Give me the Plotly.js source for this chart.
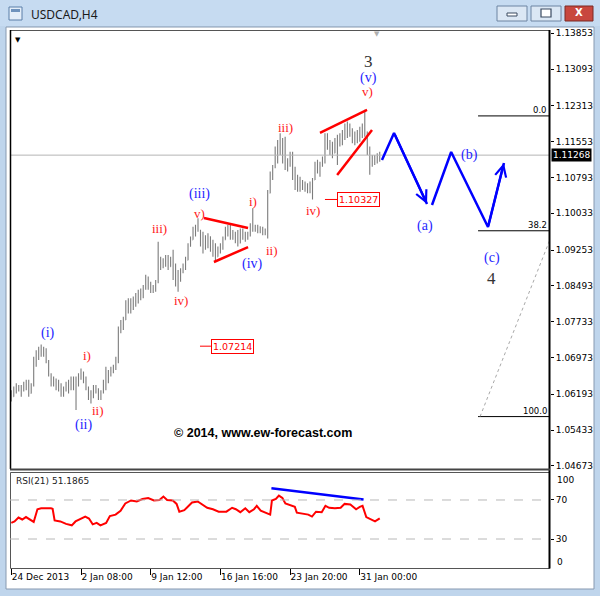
<!DOCTYPE html>
<html><head><meta charset="utf-8">
<script src="https://cdn.plot.ly/plotly-3.0.1.min.js"></script>
<style>html,body{margin:0;padding:0;background:#bfd5ec;}#chart{width:600px;height:596px;}</style>
</head><body><div id="chart"></div>
<script>
// ---------- DATA ----------
const symbolTitle = 'USDCAD,H4';
const dateTicks = [0, 28, 56, 84, 112, 140];
const dateLabels = ['24 Dec 2013','2 Jan 08:00','9 Jan 12:00','16 Jan 16:00','23 Jan 20:00','31 Jan 00:00'];
const priceTicks = [1.04673,1.05433,1.06193,1.06973,1.07733,1.08493,1.09253,1.10033,1.10793,1.11553,1.12313,1.13093,1.13853];
const bidPrice = 1.11268;

const openP = [1.0621,1.0614,1.0632,1.0636,1.0632,1.0628,1.0643,1.0636,1.0621,1.0639,
1.0692,1.0706,1.0717,1.0706,1.0713,1.0689,1.0660,1.0646,1.0650,1.0636,
1.0632,1.0621,1.0628,1.0639,1.0643,1.0650,1.0643,1.0653,1.0660,1.0667,
1.0650,1.0632,1.0614,1.0621,1.0628,1.0625,1.0614,1.0625,1.0643,1.0667,
1.0664,1.0671,1.0678,1.0692,1.0756,1.0770,1.0777,1.0812,1.0805,1.0816,
1.0819,1.0827,1.0834,1.0837,1.0848,1.0866,1.0855,1.0844,1.0841,1.0858,
1.0890,1.0897,1.0901,1.0894,1.0890,1.0904,1.0869,1.0858,1.0876,1.0883,
1.0890,1.0904,1.0933,1.0947,1.0968,1.0975,1.0968,1.0940,1.0947,1.0933,
1.0954,1.0929,1.0918,1.0911,1.0926,1.0933,1.0947,1.0968,1.0961,1.0954,
1.0961,1.0947,1.0940,1.0961,1.0954,1.0961,1.0957,1.0975,1.0971,1.0975,
1.0968,1.0964,1.0961,1.0964,1.1046,1.1081,1.1102,1.1138,1.1145,1.1131,
1.1152,1.1102,1.1117,1.1124,1.1081,1.1060,1.1074,1.1056,1.1067,1.1056,
1.1060,1.1053,1.1074,1.1102,1.1095,1.1106,1.1117,1.1166,1.1145,1.1152,
1.1131,1.1155,1.1159,1.1166,1.1173,1.1180,1.1187,1.1173,1.1166,1.1163,
1.1173,1.1180,1.1187,1.1173,1.1138,1.1117,1.1117,1.1120,1.1124];
const highP = [1.0628,1.0636,1.0643,1.0639,1.0639,1.0646,1.0650,1.0650,1.0643,1.0699,
1.0713,1.0720,1.0725,1.0720,1.0717,1.0692,1.0664,1.0657,1.0653,1.0650,
1.0643,1.0636,1.0646,1.0650,1.0657,1.0657,1.0657,1.0664,1.0674,1.0667,
1.0657,1.0636,1.0628,1.0639,1.0639,1.0632,1.0628,1.0650,1.0678,1.0671,
1.0678,1.0682,1.0699,1.0763,1.0777,1.0784,1.0819,1.0823,1.0823,1.0827,
1.0834,1.0841,1.0844,1.0851,1.0873,1.0869,1.0858,1.0851,1.0862,1.0943,
1.0911,1.0908,1.0915,1.0915,1.0911,1.0926,1.0897,1.0883,1.0887,1.0897,
1.0911,1.0940,1.0954,1.0975,1.0979,1.0993,1.0968,1.0964,1.0957,1.0961,
1.0954,1.0947,1.0940,1.0933,1.0940,1.0954,1.0975,1.0979,1.0979,1.0968,
1.0964,1.0968,1.0971,1.0971,1.0964,1.0964,1.0982,1.1014,1.0979,1.0979,
1.0976,1.0975,1.0971,1.1053,1.1092,1.1106,1.1145,1.1159,1.1173,1.1163,
1.1166,1.1120,1.1134,1.1134,1.1102,1.1085,1.1081,1.1074,1.1071,1.1067,
1.1071,1.1078,1.1113,1.1117,1.1113,1.1124,1.1173,1.1173,1.1159,1.1155,
1.1163,1.1170,1.1173,1.1180,1.1194,1.1198,1.1194,1.1184,1.1177,1.1180,
1.1187,1.1194,1.1223,1.1177,1.1145,1.1127,1.1127,1.1131,1.1134];
const lowP = [1.0604,1.0614,1.0621,1.0625,1.0614,1.0625,1.0628,1.0614,1.0621,1.0636,
1.0678,1.0692,1.0699,1.0699,1.0685,1.0657,1.0636,1.0636,1.0628,1.0625,
1.0614,1.0614,1.0625,1.0621,1.0628,1.0628,1.0586,1.0636,1.0650,1.0643,
1.0628,1.0607,1.0600,1.0611,1.0621,1.0607,1.0607,1.0621,1.0628,1.0643,
1.0657,1.0664,1.0671,1.0685,1.0749,1.0756,1.0777,1.0791,1.0791,1.0798,
1.0805,1.0812,1.0819,1.0823,1.0841,1.0841,1.0834,1.0834,1.0837,1.0855,
1.0883,1.0887,1.0890,1.0883,1.0890,1.0862,1.0848,1.0837,1.0858,1.0876,
1.0883,1.0904,1.0933,1.0947,1.0954,1.0964,1.0933,1.0918,1.0926,1.0929,
1.0922,1.0911,1.0904,1.0911,1.0918,1.0926,1.0947,1.0954,1.0947,1.0947,
1.0940,1.0933,1.0940,1.0947,1.0943,1.0947,1.0954,1.0964,1.0964,1.0961,
1.0961,1.0957,1.0957,1.0950,1.1046,1.1074,1.1099,1.1109,1.1127,1.1109,
1.1095,1.1092,1.1102,1.1074,1.1053,1.1049,1.1049,1.1053,1.1049,1.1046,
1.1046,1.10327,1.1074,1.1088,1.1081,1.1102,1.1109,1.1138,1.1127,1.1120,
1.1131,1.1106,1.1145,1.1148,1.1159,1.1163,1.1166,1.1152,1.1148,1.1152,
1.1155,1.1163,1.1166,1.1127,1.1085,1.1102,1.1106,1.1109,1.1113];
const closeP = [1.0614,1.0632,1.0636,1.0632,1.0628,1.0643,1.0636,1.0621,1.0639,1.0692,
1.0706,1.0717,1.0706,1.0713,1.0689,1.0660,1.0646,1.0650,1.0636,1.0632,
1.0621,1.0628,1.0639,1.0643,1.0650,1.0643,1.0653,1.0660,1.0667,1.0650,
1.0632,1.0614,1.0621,1.0628,1.0625,1.0614,1.0625,1.0643,1.0667,1.0664,
1.0671,1.0678,1.0692,1.0756,1.0770,1.0777,1.0812,1.0805,1.0816,1.0819,
1.0827,1.0834,1.0837,1.0848,1.0866,1.0855,1.0844,1.0841,1.0858,1.0890,
1.0897,1.0901,1.0894,1.0890,1.0904,1.0869,1.0858,1.0876,1.0883,1.0890,
1.0904,1.0933,1.0947,1.0968,1.0975,1.0968,1.0940,1.0947,1.0933,1.0954,
1.0929,1.0918,1.0911,1.0926,1.0933,1.0947,1.0968,1.0961,1.0954,1.0961,
1.0947,1.0940,1.0961,1.0954,1.0961,1.0957,1.0975,1.0971,1.0975,1.0968,
1.0964,1.0961,1.0964,1.1046,1.1081,1.1102,1.1138,1.1145,1.1131,1.1152,
1.1102,1.1117,1.1124,1.1081,1.1060,1.1074,1.1056,1.1067,1.1056,1.1060,
1.1053,1.1074,1.1102,1.1095,1.1106,1.1117,1.1166,1.1145,1.1152,1.1131,
1.1155,1.1159,1.1166,1.1173,1.1180,1.1187,1.1173,1.1166,1.1163,1.1173,
1.1180,1.1187,1.1173,1.1138,1.1117,1.1117,1.1120,1.1124,1.11268];
const barIdx = openP.map((_, i) => i);

const rsiLabel = 'RSI(21) 51.1865';
const rsiX = [0,1.3,2.9,4.4,5.9,7.4,9.0,10.5,12.0,15.9,16.6,17.4,19.7,22.0,24.3,25.8,28.1,29.7,31.2,32.7,34.3,35.8,38.1,39.6,41.9,43.9,45.8,48.1,50.4,52.7,55.0,57.3,59.5,61.1,62.6,64.9,66.4,67.5,69.5,71.0,72.6,74.9,77.2,78.7,81.0,83.3,86.4,88.7,90.2,92.0,94.0,95.6,97.5,98.6,100.2,102.4,104.0,104.7,106.3,107.5,108.9,110.1,112.4,113.9,114.7,117.0,119.3,120.8,122.4,124.7,126.2,127.7,130.0,132.3,133.9,136.2,138.5,140.0,141.1,142.6,144.6,146.1,148];
const rsiY = [46.5,48,52,50,52.5,50,47.5,60.5,61.5,61.5,61,49,48,45.5,44,48,51,53,51,45,46.5,44,46.5,53.5,55,59,66.5,69.5,68.5,71,72,69.5,70,73.5,70,69.5,66,58,59.5,63,67.5,68.5,64,62,60.5,58,58,62,60.5,57.5,61.5,57.5,60.5,64,59,57,55,69.5,71,74.5,72,66.5,64,63,57,56,55,53,58,57.5,64,62,61.5,62,66,65.5,60.5,63,64,52.5,50,48,51.19];
const rsiLevels = [70, 30];
const rsiDivX = [104.5, 141.5];
const rsiDivY = [82, 70.5];

// Elliott wave labels
const waveText = ['(i)','(ii)','i)','ii)','iii)','iv)','(iii)','v)','(iv)','i)','ii)','iii)','iv)','3','(v)','v)','(a)','(b)','(c)','4'];
const waveX = [14.7,29.2,30.4,34.8,59.4,68.2,75.8,75.4,96.7,97.1,104.7,110.0,121.2,143.3,143.3,142.9,166.2,183.9,193.1,192.7];
const waveY = [1.07494,1.05542,1.07006,1.05839,1.09701,1.08173,1.10443,1.10040,1.08958,1.10274,1.09234,1.11844,1.10083,1.13265,1.12905,1.12608,1.09764,1.11270,1.09084,1.08660];
const waveDeg = ['minor','minor','minute','minute','minute','minute','minor','minute','minor','minute','minute','minute','minute','inter','minor','minute','minor','minor','minor','inter'];

// red trend lines (triangle and ending diagonal), separated by null
const redLineX = [77.4,95.1,null,81.4,95.1,null,124.0,142.9,null,130.9,144.9];
const redLineY = [1.09934,1.09722,null,1.09000,1.09318,null,1.11738,1.12226,null,1.10847,1.11802];

// blue forecast path
const fcst1X = [148.9,153.75,167.0];
const fcst1Y = [1.11165,1.11738,1.10231];
const fcst2X = [169.0,176.7,191.5,197.9];
const fcst2Y = [1.10210,1.11334,1.09743,1.11101];

// price labels
const priceLabels = [1.07214, 1.10327];
const priceLabelLineX0 = [75.8, 126.0];
const priceLabelLineX1 = [80.2, 130.85];

// Fibonacci retracement
const fibHigh = 1.1210, fibLow = 1.0572;
const fibLevels = [0.0, 38.2, 100.0];
const fibX0 = 187.5, fibX1 = 216.4;
const fibDiagX = [188.3, 236.0];

const xRange = [-0.52, 216.4];
const yRange = [1.04608, 1.13923];
const rsiRange = [0.26, 98.7];

// ---------- HELPERS ----------
const W = 600, H = 596;
const X = p => p / W, Y = p => 1 - p / H;
const lvl = r => fibHigh - r / 100 * (fibHigh - fibLow);

// ---------- TRACES ----------
const traces = [];
traces.push({type:'scatter', mode:'lines', x:xRange, y:[bidPrice,bidPrice], line:{color:'#b4b4b4', width:1}, hoverinfo:'skip', showlegend:false});
traces.push({type:'ohlc', x:barIdx, open:openP, high:highP, low:lowP, close:closeP,
  increasing:{line:{color:'#7c7c7c', width:1.1}}, decreasing:{line:{color:'#7c7c7c', width:1.1}},
  tickwidth:0.2, hoverinfo:'skip', showlegend:false, xaxis:'x', yaxis:'y'});
traces.push({type:'scatter', mode:'lines', x:redLineX, y:redLineY, line:{color:'#ff0000', width:2.5}, connectgaps:false, hoverinfo:'skip', showlegend:false});
traces.push({type:'scatter', mode:'lines', x:fcst1X, y:fcst1Y, line:{color:'#0000ff', width:2.5}, hoverinfo:'skip', showlegend:false});
traces.push({type:'scatter', mode:'lines', x:fcst2X, y:fcst2Y, line:{color:'#0000ff', width:2.5}, hoverinfo:'skip', showlegend:false});
// fib lines
const fx = [], fy = [];
fibLevels.forEach(r => { fx.push(fibX0, fibX1, null); fy.push(lvl(r), lvl(r), null); });
traces.push({type:'scatter', mode:'lines', x:fx, y:fy, line:{color:'#000', width:1}, hoverinfo:'skip', showlegend:false});
traces.push({type:'scatter', mode:'lines', x:fibDiagX, y:[fibLow, fibHigh], line:{color:'#a8a8a8', width:1, dash:'dot'}, hoverinfo:'skip', showlegend:false});
// price label leader lines
priceLabels.forEach((p, i) => {
  traces.push({type:'scatter', mode:'lines', x:[priceLabelLineX0[i], priceLabelLineX1[i]], y:[p,p], line:{color:'#ff0000', width:1}, hoverinfo:'skip', showlegend:false});
});
// RSI
traces.push({type:'scatter', mode:'lines', x:rsiX, y:rsiY, xaxis:'x', yaxis:'y2', line:{color:'#ff0000', width:2}, hoverinfo:'skip', showlegend:false});
traces.push({type:'scatter', mode:'lines', x:rsiDivX, y:rsiDivY, xaxis:'x', yaxis:'y2', line:{color:'#0000ff', width:2.5}, hoverinfo:'skip', showlegend:false});

// ---------- ANNOTATIONS ----------
const ann = [];
const degStyle = {
  minor: {color:'#2525ff', size:14},
  minute:{color:'#ff1a1a', size:13},
  inter: {color:'#333333', size:17}
};
waveText.forEach((t, i) => {
  const s = degStyle[waveDeg[i]];
  ann.push({x:waveX[i], y:waveY[i], xref:'x', yref:'y', text:t, showarrow:false,
    font:{family:'Liberation Serif, serif', size:s.size, color:s.color}, xanchor:'center', yanchor:'middle'});
});
// arrowheads of forecast
ann.push({x:fcst1X[2], y:fcst1Y[2], ax:fcst1X[1], ay:fcst1Y[1], xref:'x', yref:'y', axref:'x', ayref:'y', text:'', showarrow:true, arrowhead:5, arrowsize:1, arrowwidth:2.2, arrowcolor:'#0000ff', standoff:0});
ann.push({x:fcst2X[3], y:fcst2Y[3], ax:fcst2X[2], ay:fcst2Y[2], xref:'x', yref:'y', axref:'x', ayref:'y', text:'', showarrow:true, arrowhead:5, arrowsize:1, arrowwidth:2.2, arrowcolor:'#0000ff', standoff:0});
// price label boxes
priceLabels.forEach((p, i) => {
  ann.push({x:priceLabelLineX1[i], y:p, xref:'x', yref:'y', text:p.toFixed(5), showarrow:false, xanchor:'left', yanchor:'middle',
    font:{family:'DejaVu Sans', size:9.5, color:'#ff0000'}, bgcolor:'#ffffff', bordercolor:'#ff0000', borderwidth:1, borderpad:1});
});
// fib labels
fibLevels.forEach(r => {
  ann.push({x:215.8, y:lvl(r), xref:'x', yref:'y', text:r.toFixed(1), showarrow:false, xanchor:'right', yanchor:'bottom', yshift:-1,
    font:{family:'DejaVu Sans', size:8.5, color:'#000'}});
});
// bid box
ann.push({x:X(550.5), y:bidPrice, xref:'paper', yref:'y', text:bidPrice.toFixed(5), showarrow:false, xanchor:'left', yanchor:'middle',
  bgcolor:'#000', font:{family:'DejaVu Sans', size:9, color:'#fff'}, borderpad:1});
// copyright
ann.push({x:X(263), y:Y(433), xref:'paper', yref:'paper', text:'© 2014, www.ew-forecast.com', showarrow:false,
  font:{family:'Liberation Sans, Arial', size:12.5, color:'#000', weight:'bold'}, xanchor:'center', yanchor:'middle'});
// RSI title and scale ends
ann.push({x:X(14), y:Y(481), xref:'paper', yref:'paper', text:rsiLabel, showarrow:false, xanchor:'left', yanchor:'middle',
  font:{family:'DejaVu Sans', size:9, color:'#222'}});
ann.push({x:X(555), y:Y(480), xref:'paper', yref:'paper', text:'100', showarrow:false, xanchor:'left', yanchor:'middle', font:{family:'DejaVu Sans', size:9, color:'#000'}});
ann.push({x:X(555), y:Y(562), xref:'paper', yref:'paper', text:'0', showarrow:false, xanchor:'left', yanchor:'middle', font:{family:'DejaVu Sans', size:9, color:'#000'}});
// window chrome text
ann.push({x:X(29), y:Y(14), xref:'paper', yref:'paper', text:symbolTitle, showarrow:false, xanchor:'left', yanchor:'middle', font:{family:'Noto Sans', size:12, color:'#1a1a1a'}});
ann.push({x:X(578.5), y:Y(13), xref:'paper', yref:'paper', text:'<b>X</b>', showarrow:false, xanchor:'center', yanchor:'middle', font:{family:'DejaVu Sans', size:10, color:'#fff'}});
ann.push({x:X(18), y:Y(40), xref:'paper', yref:'paper', text:'▼', showarrow:false, xanchor:'center', yanchor:'middle', font:{family:'DejaVu Sans', size:7, color:'#000'}});
ann.push({x:X(377), y:Y(34), xref:'paper', yref:'paper', text:'▼', showarrow:false, xanchor:'center', yanchor:'middle', font:{family:'DejaVu Sans', size:7, color:'#b0b0b0'}});

// ---------- SHAPES ----------
const R = (x0,y0,x1,y1,o) => Object.assign({type:'rect', xref:'paper', yref:'paper', x0:X(x0), x1:X(x1), y0:Y(y1), y1:Y(y0)}, o);
const L = (x0,y0,x1,y1,o) => Object.assign({type:'line', xref:'paper', yref:'paper', x0:X(x0), x1:X(x1), y0:Y(y0), y1:Y(y1)}, o);
const shapes = [
  R(0,0,600,26,{fillcolor:'#c6dbf1', line:{width:0}, layer:'below'}),
  R(6,27,594,589,{fillcolor:'#ffffff', line:{color:'#8799b0', width:1}, layer:'below'}),
  // window icon
  R(9,7,22,20,{fillcolor:'#e4eef9', line:{color:'#5b7fa8', width:1}}),
  R(11,9,20,12,{fillcolor:'#6f93bd', line:{width:0}}),
  // buttons
  R(497,6,527,21,{fillcolor:'#dbe7f4', line:{color:'#6c84a2', width:1}}),
  R(507,13,517,16,{fillcolor:'#ffffff', line:{color:'#3a4a60', width:1}}),
  R(531,6,561,21,{fillcolor:'#dbe7f4', line:{color:'#6c84a2', width:1}}),
  R(541,9,551,17,{fillcolor:'#ffffff', line:{color:'#3a4a60', width:1.2}}),
  R(565,6,593,21,{fillcolor:'#c8473e', line:{color:'#7a2a25', width:1}}),
  // panel frames
  R(10.5,30.5,549.5,469.5,{line:{color:'#555', width:1}, layer:'above'}),
  R(10.5,472.5,549.5,568.5,{line:{color:'#555', width:1}, layer:'above'}),
  L(10.5,30,10.5,469,{line:{color:'#000', width:1.5}}),
  L(549.5,30,549.5,568.5,{line:{color:'#000', width:2}}),
  L(10,469.5,550,469.5,{line:{color:'#444', width:2}}),
];
rsiLevels.forEach(v => shapes.push({type:'line', xref:'x domain', yref:'y2', x0:0, x1:1, y0:v, y1:v, line:{color:'#b8b8b8', width:1, dash:'dash'}}));

// ---------- LAYOUT ----------
const tickFont = {family:'DejaVu Sans', size:9, color:'#000'};
const layout = {
  width:W, height:H, margin:{l:0, r:0, t:0, b:0, pad:0},
  paper_bgcolor:'#bfd5ec', plot_bgcolor:'#ffffff', showlegend:false,
  xaxis:{domain:[X(10), X(550)], range:xRange, anchor:'y2', tickmode:'array', tickvals:dateTicks, ticktext:dateLabels,
    ticks:'outside', ticklen:6, tickcolor:'#000', tickwidth:1, ticklabelposition:'outside right', tickfont:tickFont,
    showgrid:false, zeroline:false, showline:false, rangeslider:{visible:false}, fixedrange:true, automargin:false},
  yaxis:{domain:[Y(469), Y(30)], range:yRange, side:'right', anchor:'x', tickmode:'array', tickvals:priceTicks, tickformat:'.5f',
    ticks:'outside', ticklen:3, tickcolor:'#000', tickfont:tickFont, showgrid:false, zeroline:false, showline:false, fixedrange:true, automargin:false},
  yaxis2:{domain:[Y(568), Y(472)], range:rsiRange, side:'right', anchor:'x', tickmode:'array', tickvals:rsiLevels,
    ticks:'outside', ticklen:3, tickcolor:'#000', tickfont:tickFont, showgrid:false, zeroline:false, showline:false, fixedrange:true, automargin:false},
  shapes:shapes, annotations:ann
};
Plotly.newPlot('chart', traces, layout, {staticPlot:true, displayModeBar:false});
</script></body></html>
